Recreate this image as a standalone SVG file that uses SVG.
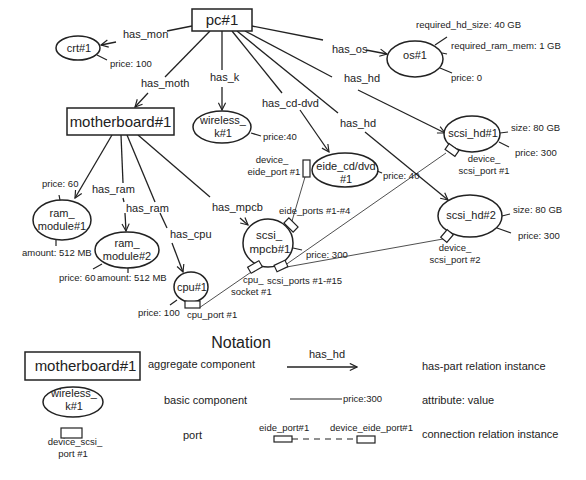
<svg xmlns="http://www.w3.org/2000/svg" width="586" height="480" viewBox="0 0 586 480">
<style>
text{font-family:"Liberation Sans",Arial,sans-serif;fill:#222}
.n{font-size:11px;text-anchor:middle}
.l{font-size:11px}
.a{font-size:9.5px}
.big{font-size:15px;text-anchor:middle}
.shape{fill:#fff;stroke:#222;stroke-width:1.5}
.rel{stroke:#222;stroke-width:1.3;fill:none}
.tick{stroke:#222;stroke-width:1.2;fill:none}
.con{stroke:#222;stroke-width:0.8;fill:none}
.port{fill:#fff;stroke:#222;stroke-width:1.2}
</style>
<defs>
<marker id="arr" viewBox="0 0 10 10" refX="9" refY="5" markerWidth="9" markerHeight="9" markerUnits="userSpaceOnUse" orient="auto">
<path d="M1,1 L9,5 L1,9" fill="none" stroke="#222" stroke-width="1.3"/>
</marker>
</defs>
<rect width="586" height="480" fill="#fff"/>

<g id="connectors">
<!-- has-part relations -->
<line class="rel" x1="192" y1="26" x2="167" y2="31"/>
<line class="rel" x1="116" y1="42" x2="101" y2="45" marker-end="url(#arr)"/>
<line class="rel" x1="210" y1="31" x2="165" y2="77"/>
<line class="rel" x1="148" y1="93" x2="135" y2="107" marker-end="url(#arr)"/>
<line class="rel" x1="222" y1="31" x2="222" y2="70"/>
<line class="rel" x1="222" y1="87" x2="222" y2="110" marker-end="url(#arr)"/>
<line class="rel" x1="232" y1="31" x2="282" y2="93"/>
<line class="rel" x1="300" y1="110" x2="329" y2="152" marker-end="url(#arr)"/>
<line class="rel" x1="237" y1="31" x2="338" y2="113"/>
<line class="rel" x1="365" y1="132" x2="448" y2="200" marker-end="url(#arr)"/>
<line class="rel" x1="245" y1="31" x2="332" y2="77"/>
<line class="rel" x1="358" y1="90" x2="445" y2="133" marker-end="url(#arr)"/>
<line class="rel" x1="252" y1="26" x2="323" y2="40"/>
<line class="rel" x1="366" y1="50" x2="387" y2="54" marker-end="url(#arr)"/>
<line class="rel" x1="112" y1="135" x2="75" y2="198" marker-end="url(#arr)"/>
<line class="rel" x1="121" y1="135" x2="123" y2="183"/>
<line class="rel" x1="123" y1="198" x2="124" y2="202"/>
<line class="rel" x1="125" y1="213" x2="126" y2="231" marker-end="url(#arr)"/>
<line class="rel" x1="127" y1="135" x2="155" y2="202"/>
<line class="rel" x1="160" y1="213" x2="167" y2="228"/>
<line class="rel" x1="172" y1="243" x2="183" y2="272" marker-end="url(#arr)"/>
<line class="rel" x1="138" y1="135" x2="210" y2="197"/>
<line class="rel" x1="240" y1="218" x2="248" y2="225" marker-end="url(#arr)"/>
<!-- connection relations -->
<line class="con" x1="305" y1="177" x2="292" y2="221"/>
<line class="con" x1="199" y1="308" x2="257" y2="268"/>
<line class="con" x1="281" y1="268" x2="446" y2="153"/>
<line class="con" x1="281" y1="268" x2="443" y2="239"/>
</g>

<g id="labels">
<text class="l" x="123" y="38">has_mon</text>
<text class="l" x="141" y="87">has_moth</text>
<text class="l" x="210" y="81">has_k</text>
<text class="l" x="262" y="107">has_cd-dvd</text>
<text class="l" x="340" y="127">has_hd</text>
<text class="l" x="344" y="82">has_hd</text>
<text class="l" x="332" y="53">has_os</text>
<text class="l" x="92" y="193">has_ram</text>
<text class="l" x="126" y="212">has_ram</text>
<text class="l" x="170" y="238">has_cpu</text>
<text class="l" x="212" y="211">has_mpcb</text>
</g>

<g id="pc1">
<rect class="shape" x="192" y="9" width="60" height="22"/>
<text class="big" x="222" y="25">pc#1</text>
</g>

<g id="crt1">
<ellipse class="shape" cx="78" cy="48" rx="22" ry="12"/>
<text class="n" x="79" y="52">crt#1</text>
<line class="tick" x1="97" y1="55" x2="107" y2="60"/>
<text class="a" x="110" y="67">price: 100</text>
</g>

<g id="motherboard1">
<rect class="shape" x="67" y="108" width="107" height="27"/>
<text class="big" x="120.5" y="127">motherboard#1</text>
</g>

<g id="wireless_k1">
<ellipse class="shape" cx="222" cy="127" rx="29" ry="16"/>
<text class="n" x="223" y="124">wireless_</text>
<text class="n" x="223" y="137">k#1</text>
<line class="tick" x1="251" y1="133" x2="261" y2="136"/>
<text class="a" x="263" y="140">price:40</text>
</g>

<g id="os1">
<ellipse class="shape" cx="415" cy="59" rx="28" ry="18"/>
<text class="n" x="415" y="59">os#1</text>
<line class="tick" x1="435" y1="45" x2="447" y2="37"/>
<text class="a" x="416" y="28">required_hd_size: 40 GB</text>
<line class="tick" x1="442" y1="53" x2="447" y2="54"/>
<text class="a" x="451" y="49">required_ram_mem: 1 GB</text>
<line class="tick" x1="440" y1="68" x2="452" y2="73"/>
<text class="a" x="451" y="81">price: 0</text>
</g>

<g id="eide_cd_dvd1">
<ellipse class="shape" cx="345" cy="170" rx="33" ry="17"/>
<text class="n" x="346" y="170">eide_cd/dvd</text>
<text class="n" x="346" y="183">#1</text>
<rect class="port" x="303" y="160" width="7" height="17"/>
<text class="a" x="272" y="163" text-anchor="middle">device_</text>
<text class="a" x="274" y="175" text-anchor="middle">eide_port #1</text>
<line class="tick" x1="377" y1="171" x2="382" y2="173"/>
<text class="a" x="383" y="179">price: 40</text>
</g>

<g id="scsi_hd1">
<ellipse class="shape" cx="472" cy="134" rx="28" ry="18"/>
<text class="n" x="473" y="137">scsi_hd#1</text>
<rect class="port" x="-6" y="-3.5" width="12" height="7" transform="translate(452 150) rotate(35)"/>
<text class="a" x="484" y="162" text-anchor="middle">device_</text>
<text class="a" x="484" y="174" text-anchor="middle">scsi_port #1</text>
<line class="tick" x1="500" y1="133" x2="508" y2="132"/>
<text class="a" x="511" y="131">size: 80 GB</text>
<line class="tick" x1="499" y1="142" x2="509" y2="147"/>
<text class="a" x="515" y="156">price: 300</text>
</g>

<g id="scsi_hd2">
<ellipse class="shape" cx="470" cy="216" rx="32" ry="21"/>
<text class="n" x="471" y="219">scsi_hd#2</text>
<rect class="port" x="-5" y="-4" width="10" height="8" transform="translate(447 236) rotate(-50)"/>
<text class="a" x="455" y="251" text-anchor="middle">device_</text>
<text class="a" x="455" y="263" text-anchor="middle">scsi_port #2</text>
<line class="tick" x1="502" y1="216" x2="510" y2="214"/>
<text class="a" x="513" y="213">size: 80 GB</text>
<line class="tick" x1="497" y1="228" x2="511" y2="233"/>
<text class="a" x="518" y="239">price: 300</text>
</g>

<g id="scsi_mpcb1">
<ellipse class="shape" cx="268" cy="243" rx="25" ry="24"/>
<text x="269" y="239" style="font-size:11.5px;text-anchor:middle">scsi_</text>
<text x="270" y="253" style="font-size:11.5px;text-anchor:middle">mpcb#1</text>
<rect class="port" x="-6.5" y="-3.5" width="13" height="7" transform="translate(291 225) rotate(45)"/>
<rect class="port" x="-6.5" y="-3.5" width="13" height="7" transform="translate(255 267) rotate(-30)"/>
<rect class="port" x="-6" y="-3.5" width="12" height="7" transform="translate(281 266) rotate(-25)"/>
<text class="a" x="279" y="214">eide_ports #1-#4</text>
<text class="a" x="243" y="283">cpu_</text>
<text class="a" x="231" y="295">socket #1</text>
<text class="a" x="267" y="284">scsi_ports #1-#15</text>
<line class="tick" x1="293" y1="248" x2="302" y2="250"/>
<text class="a" x="306" y="258">price: 300</text>
</g>

<g id="ram_module1">
<ellipse class="shape" cx="62" cy="220" rx="29" ry="20"/>
<text class="n" x="62" y="217">ram_</text>
<text class="n" x="62" y="230">module#1</text>
<line class="tick" x1="59" y1="195" x2="60" y2="200"/>
<text class="a" x="42" y="187">price: 60</text>
<line class="tick" x1="56" y1="240" x2="56" y2="246"/>
<text class="a" x="22" y="256">amount: 512 MB</text>
</g>

<g id="ram_module2">
<ellipse class="shape" cx="127" cy="250" rx="32" ry="18"/>
<text class="n" x="127" y="247">ram_</text>
<text class="n" x="127" y="260">module#2</text>
<line class="tick" x1="93" y1="269" x2="102" y2="264"/>
<text class="a" x="59" y="281">price: 60</text>
<line class="tick" x1="128" y1="268" x2="128" y2="273"/>
<text class="a" x="97" y="281">amount: 512 MB</text>
</g>

<g id="cpu1">
<ellipse class="shape" cx="191" cy="287" rx="17" ry="15"/>
<text class="n" x="192" y="291">cpu#1</text>
<rect class="port" x="185" y="301" width="15" height="7"/>
<text class="a" x="187" y="318">cpu_port #1</text>
<line class="tick" x1="170" y1="305" x2="177" y2="300"/>
<text class="a" x="138" y="316">price: 100</text>
</g>

<g id="notation">
<text x="241" y="348" style="font-size:16px;text-anchor:middle">Notation</text>
<rect class="shape" x="25" y="352" width="115" height="28"/>
<text class="big" x="85.5" y="371">motherboard#1</text>
<text class="l" x="148" y="368">aggregate component</text>
<ellipse class="shape" cx="73" cy="402" rx="30" ry="15"/>
<text class="n" x="74" y="397">wireless_</text>
<text class="n" x="74" y="410">k#1</text>
<text class="l" x="164" y="404">basic component</text>
<rect class="port" x="61" y="428" width="21" height="10"/>
<text class="a" x="75" y="445" text-anchor="middle">device_scsi_</text>
<text class="a" x="73" y="457" text-anchor="middle">port #1</text>
<text class="l" x="183" y="439">port</text>
<text class="l" x="309" y="358">has_hd</text>
<line class="rel" x1="287" y1="367" x2="357" y2="367" marker-end="url(#arr)"/>
<text class="l" x="422" y="370">has-part relation instance</text>
<line class="tick" x1="290" y1="399" x2="342" y2="399"/>
<text class="a" x="343" y="402">price:300</text>
<text class="l" x="422" y="404">attribute: value</text>
<text class="a" x="259" y="431">eide_port#1</text>
<text class="a" x="330" y="431">device_eide_port#1</text>
<rect class="port" x="274" y="436" width="18" height="6"/>
<line class="tick" x1="292" y1="439" x2="357" y2="439" stroke-dasharray="6,5"/>
<rect class="port" x="357" y="436" width="18" height="7"/>
<text class="l" x="422" y="438">connection relation instance</text>
</g>
</svg>
